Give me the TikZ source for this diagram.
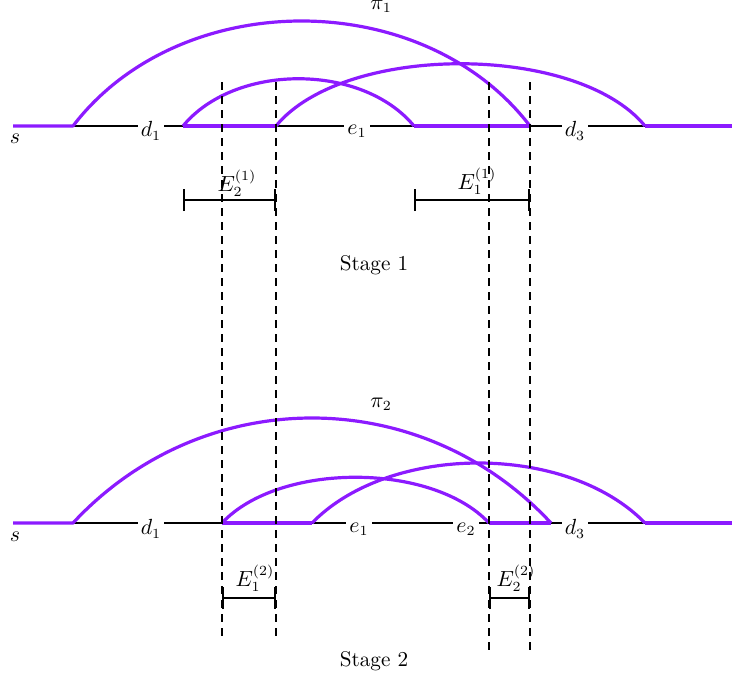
\documentclass[tikz,border=0pt]{standalone}
\usetikzlibrary{arrows.meta}
\definecolor{pviolet}{RGB}{140,26,255}
\begin{document}
\begin{tikzpicture}[x=0.5pt,y=-0.5pt,
  every node/.style={font=\fontsize{10.6pt}{12.7pt}\selectfont},
  baseline/.style={line width=0.8pt, black},
  walk/.style={line width=1.6pt, pviolet, line join=round},
  guide/.style={line width=0.8pt, dash pattern=on 4pt off 3pt},
  interval/.style={line width=0.9pt, {Bar[width=11pt]}-{Bar[width=11pt]}},
  lab/.style={fill=white, inner sep=1.5pt},
  plain/.style={inner sep=1pt},
]
\useasboundingbox (0,0) rectangle (732,680);

% ---------- Stage 1 ----------
\coordinate (s1) at (13,126);
\coordinate (a1) at (73,126);
\coordinate (b1) at (183,126);
\coordinate (c1) at (276,126);
\coordinate (f1) at (414,126);
\coordinate (g1) at (530,126);
\coordinate (h1) at (645,126);
\coordinate (t1) at (732,126);

\draw[baseline] (s1) -- (t1);
\node[lab] (d1a) at (151,131) {$d_1$};
\node[lab] (e1a) at (357,131) {$e_1$};
\node[lab] (d3a) at (575,131) {$d_3$};

\draw[walk] (s1) -- (a1) .. controls (180,-14) and (423,-14) .. (g1);
\draw[walk] (b1) -- (c1);
\draw[walk] (b1) .. controls (235,63) and (362,63) .. (f1);
\draw[walk] (c1) .. controls (344,43) and (577,43) .. (h1);
\draw[walk] (f1) -- (g1);
\draw[walk] (h1) -- (t1);

\node[plain] (sa) at (15,139) {$s$};
\node[plain] (ta) at (737,140) {$t$};
\node[plain] (pi1) at (381,6) {$\pi_1$};

% ---------- Stage 2 ----------
\coordinate (s2) at (13,523);
\coordinate (a2) at (73,523);
\coordinate (b2) at (222,523);
\coordinate (c2) at (312,523);
\coordinate (f2) at (489,523);
\coordinate (g2) at (551,523);
\coordinate (h2) at (645,523);
\coordinate (t2) at (732,523);

\draw[baseline] (s2) -- (t2);
\node[lab] (d1b) at (151,529) {$d_1$};
\node[lab] (e1b) at (359,529) {$e_1$};
\node[lab] (e2b) at (466,529) {$e_2$};
\node[lab] (d3b) at (575,529) {$d_3$};

\draw[walk] (s2) -- (a2) .. controls (203,383) and (421,383) .. (g2);
\draw[walk] (b2) -- (c2);
\draw[walk] (b2) .. controls (279,462) and (432,462) .. (f2);
\draw[walk] (c2) .. controls (390,443) and (567,443) .. (h2);
\draw[walk] (f2) -- (g2);
\draw[walk] (h2) -- (t2);

\node[plain] (sb) at (15,537) {$s$};
\node[plain] (tb) at (737,538) {$t$};
\node[plain] (pi2) at (381,404) {$\pi_2$};

% ---------- dashed guides ----------
\coordinate (v1t) at (222,82);  \coordinate (v1b) at (222,640);
\coordinate (v2t) at (276,82);  \coordinate (v2b) at (276,640);
\coordinate (v3t) at (489,82);  \coordinate (v3b) at (489,650);
\coordinate (v4t) at (530,82);  \coordinate (v4b) at (530,650);
\draw[guide] (v1t) -- (v1b);
\draw[guide] (v2t) -- (v2b);
\draw[guide] (v3t) -- (v3b);
\draw[guide] (v4t) -- (v4b);

% ---------- intervals ----------
\coordinate (i1l) at (183,200); \coordinate (i1r) at (276,200);
\coordinate (i2l) at (414,200); \coordinate (i2r) at (530,200);
\coordinate (i3l) at (222,598); \coordinate (i3r) at (276,598);
\coordinate (i4l) at (489,598); \coordinate (i4r) at (530,598);
\draw[interval] (i1l) -- (i1r);
\draw[interval] (i2l) -- (i2r);
\draw[interval] (i3l) -- (i3r);
\draw[interval] (i4l) -- (i4r);

\node[plain] (E21) at (237,183) {$E_2^{(1)}$};
\node[plain] (E11) at (477,181) {$E_1^{(1)}$};
\node[plain] (E12) at (255,578) {$E_1^{(2)}$};
\node[plain] (E22) at (516,578) {$E_2^{(2)}$};

\node[plain] (st1) at (374,265) {Stage 1};
\node[plain] (st2) at (374,661) {Stage 2};
\end{tikzpicture}
\end{document}
